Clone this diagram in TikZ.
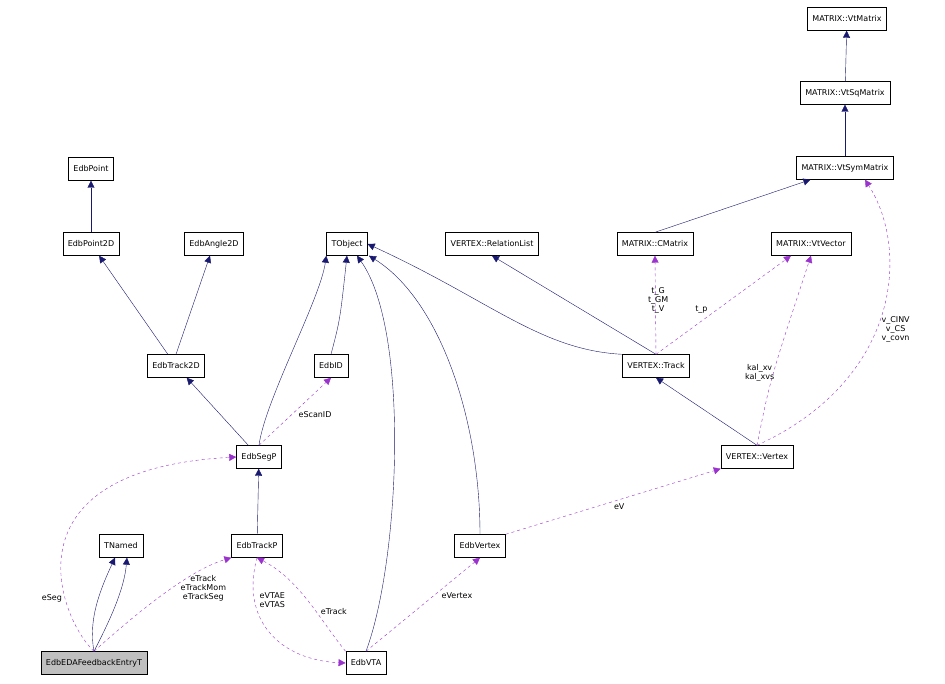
\documentclass[tikz,border=0pt]{standalone}
\usepackage{fontspec}
\setmainfont{DejaVu Sans}
\usetikzlibrary{arrows.meta}
\definecolor{inh}{HTML}{191970}
\definecolor{use}{HTML}{9A32CD}
\tikzset{
  cls/.style={draw, fill=white, font=\fontsize{8}{9}\selectfont, minimum height=23pt, inner xsep=5pt, inner ysep=2pt},
  inh/.style={draw=inh, -{Triangle[length=7pt,width=7pt]}, fill=none},
  use/.style={draw=use, dashed, -{Triangle[length=7pt,width=7pt,fill=use]}},
  lbl/.style={font=\fontsize{8}{9}\selectfont, align=center, inner sep=1pt}
}
\begin{document}
\begin{tikzpicture}[x=1pt,y=-1pt]
\useasboundingbox (0,0) rectangle (945,684);
% classes
\node [cls] (vtm) at (847,19) {MATRIX::VtMatrix};
\node [cls] (vsq) at (845,93) {MATRIX::VtSqMatrix};
\node [cls] (vsym) at (845,168) {MATRIX::VtSymMatrix};
\node [cls] (pt) at (91,169) {EdbPoint};
\node [cls] (pt2) at (91,244) {EdbPoint2D};
\node [cls] (ang) at (214,244) {EdbAngle2D};
\node [cls] (tobj) at (347,244) {TObject};
\node [cls] (rel) at (492,244) {VERTEX::RelationList};
\node [cls] (cmat) at (655,244) {MATRIX::CMatrix};
\node [cls] (vvec) at (811,244) {MATRIX::VtVector};
\node [cls] (tr2) at (176,366) {EdbTrack2D};
\node [cls] (eid) at (331,366) {EdbID};
\node [cls] (vtrk) at (656,366) {VERTEX::Track};
\node [cls] (seg) at (259,457) {EdbSegP};
\node [cls] (vvtx) at (757,457) {VERTEX::Vertex};
\node [cls] (tnam) at (121,546) {TNamed};
\node [cls] (trkp) at (257,546) {EdbTrackP};
\node [cls] (evtx) at (480,546) {EdbVertex};
\node [cls, fill=black!25] (eda) at (94,663) {EdbEDAFeedbackEntryT};
\node [cls] (vta) at (366,663) {EdbVTA};

% inheritance
\draw [inh] (vsq) -- (vtm);
\draw [inh] (vsym) -- (vsq);
\draw [inh] (pt2) -- (pt);
\draw [inh] (tr2) -- (pt2);
\draw [inh] (tr2.north) -- (ang);
\draw [inh] (cmat.north) -- (vsym);
\draw [inh] (seg) -- (tr2);
\draw [inh] (seg.north) .. controls (265,400) and (320,300) .. (tobj.south west);
\draw [inh] (eid.north) .. controls (340,320) .. (tobj.south);
\draw [inh] (vta.north) .. controls (400,560) and (410,330) .. ([xshift=10pt]tobj.south);
\draw [inh] (evtx.north) .. controls (480,420) and (440,300) .. ([xshift=22pt]tobj.south);
\draw [inh] (vtrk.north west) .. controls (540,350) and (490,300) .. (tobj.east);
\draw [inh] (vtrk.north) -- (rel.south);
\draw [inh] (vvtx.north) -- (vtrk.south);
\draw [inh] (trkp) -- (seg);
\draw [inh] (eda.north) .. controls (88,620) and (100,590) .. ([xshift=-6pt]tnam.south);
\draw [inh] (eda.north) .. controls (110,620) and (124,590) .. ([xshift=6pt]tnam.south);

% usage
\draw [use] (vtrk.north) -- node [lbl, pos=0.55, left=-14pt] {t\_G\\t\_GM\\t\_V} (cmat.south);
\draw [use] (vtrk.north) -- node [lbl, pos=0.45, left=8pt] {t\_p} ([xshift=-20pt]vvec.south);
\draw [use] (vvtx.north) .. controls (770,380) .. node [lbl, pos=0.5, left=-2pt] {kal\_xv\\kal\_xvs} (vvec.south);
\draw [use] (vvtx.north) .. controls (900,380) and (910,250) .. node [lbl, pos=0.45, right=4pt] {v\_CINV\\v\_CS\\v\_covn} ([xshift=20pt]vsym.south);
\draw [use] (seg.north) -- node [lbl, pos=0.45, right=6pt] {eScanID} (eid.south);
\draw [use] (eda.north) .. controls (60,620) and (0,470) .. node [lbl, pos=0.3, left=2pt] {eSeg} (seg.west);
\draw [use] (eda.north) .. controls (140,610) and (190,570) .. node [lbl, pos=0.55, right=8pt] {eTrack\\eTrackMom\\eTrackSeg} (trkp.south west);
\draw [use] (trkp.south) .. controls (240,620) and (280,660) .. node [lbl, pos=0.25, right=4pt] {eVTAE\\eVTAS} (vta.west);
\draw [use] (vta.north west) .. controls (320,620) and (300,580) .. node [lbl, pos=0.4, right=4pt] {eTrack} (trkp.south);
\draw [use] (vta.north) -- node [lbl, pos=0.6, right=6pt] {eVertex} (evtx.south);
\draw [use] (evtx.north east) -- node [lbl, pos=0.5, left=-6pt, below=1pt] {eV} (vvtx.south west);
\end{tikzpicture}
\end{document}
